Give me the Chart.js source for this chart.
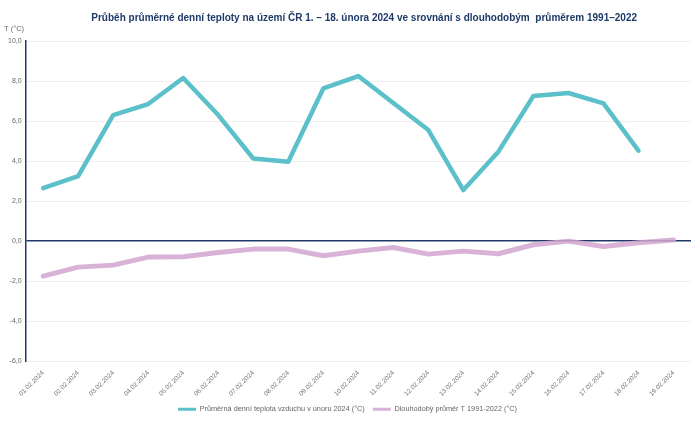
<!DOCTYPE html>
<html>
<head>
  <script src="https://cdn.jsdelivr.net/npm/chart.js"></script>
  <title>Průběh teploty</title>
  <style>
    body { margin: 0; background: #fff; }
    #wrap { width: 700px; height: 423px; }
  </style>
</head>
<body>
  <div id="wrap"><canvas id="chart" width="700" height="423"></canvas></div>

  <script>
    // dates of February 2024
    const days = ['01.02.2024', '02.02.2024', '03.02.2024', '04.02.2024', '05.02.2024', '06.02.2024',
      '07.02.2024', '08.02.2024', '09.02.2024', '10.02.2024', '11.02.2024', '12.02.2024',
      '13.02.2024', '14.02.2024', '15.02.2024', '16.02.2024', '17.02.2024', '18.02.2024', '19.02.2024'];

    // daily mean temperature Feb 2024 (°C), no value for the 19th
    const temp2024 = [2.65, 3.25, 6.3, 6.85, 8.15, 6.3, 4.13, 3.97, 7.63, 8.25, 6.9, 5.55,
      2.55, 4.47, 7.25, 7.4, 6.88, 4.52, null];

    // long term average 1991-2022 (°C)
    const avg9122 = [-1.75, -1.3, -1.2, -0.8, -0.78, -0.57, -0.4, -0.4, -0.73, -0.5, -0.32, -0.65,
      -0.5, -0.63, -0.18, 0.0, -0.27, -0.08, 0.05];

    const labelNow = 'Průměrná denní teplota vzduchu v únoru 2024 (°C)';
    const labelAvg = 'Dlouhodobý průměr T 1991-2022 (°C)';

    const navy = '#1f3a68';
    const font = '"Liberation Sans", Arial, sans-serif';

    new Chart(document.getElementById('chart').getContext('2d'), {
      type: 'line',
      data: {
        labels: days,
        datasets: [
          {
            label: labelNow,
            data: temp2024,
            borderColor: '#5bc0c9',
            backgroundColor: '#5bc0c9',
            borderWidth: 4.5,
            pointRadius: 0,
            tension: 0,
            borderCapStyle: 'round',
            borderJoinStyle: 'round'
          },
          {
            label: labelAvg,
            data: avg9122,
            borderColor: 'rgba(210,165,208,0.85)',
            backgroundColor: 'rgba(210,165,208,0.85)',
            borderWidth: 5,
            pointRadius: 0,
            tension: 0,
            borderCapStyle: 'round',
            borderJoinStyle: 'round'
          }
        ]
      },
      options: {
        responsive: false,
        animation: false,
        devicePixelRatio: 1,
        layout: { padding: { left: 4, right: 9, top: 12, bottom: 0 } },
        plugins: {
          title: {
            display: true,
            // leading spaces nudge the centred title a bit to the right, as in the original
            text: '            Průběh průměrné denní teploty na území ČR 1. – 18. února 2024 ve srovnání s dlouhodobým  průměrem 1991–2022',
            color: navy,
            font: { family: font, size: 10, weight: 'bold' },
            padding: { top: 0, bottom: 0 }
          },
          subtitle: {
            display: true,
            text: 'T (°C)',
            align: 'start',
            color: '#666',
            font: { family: font, size: 7.5 },
            padding: { top: 0, bottom: 8 }
          },
          legend: {
            position: 'bottom',
            labels: {
              color: '#666',
              font: { family: font, size: 7.3 },
              boxWidth: 18,
              boxHeight: 3,
              padding: 8,
              generateLabels: chart => Chart.defaults.plugins.legend.labels.generateLabels(chart)
                .map(l => Object.assign(l, { lineWidth: 0 }))
            }
          },
          tooltip: { enabled: false }
        },
        scales: {
          x: {
            offset: true,
            grid: { display: false },
            border: { display: false },
            ticks: {
              color: '#777',
              font: { family: font, size: 6.5 },
              minRotation: 45,
              maxRotation: 45,
              padding: 0,
              autoSkip: false
            }
          },
          y: {
            min: -6,
            max: 10,
            border: { display: true, color: navy, width: 1.5 },
            grid: {
              drawTicks: false,
              color: ctx => ctx.tick.value === 0 ? navy : '#efefef',
              lineWidth: ctx => ctx.tick.value === 0 ? 1.5 : 1
            },
            ticks: {
              stepSize: 2,
              padding: 4,
              color: '#666',
              font: { family: font, size: 7 },
              callback: v => v.toFixed(1).replace('.', ',')
            }
          }
        }
      }
    });
  </script>
</body>
</html>
